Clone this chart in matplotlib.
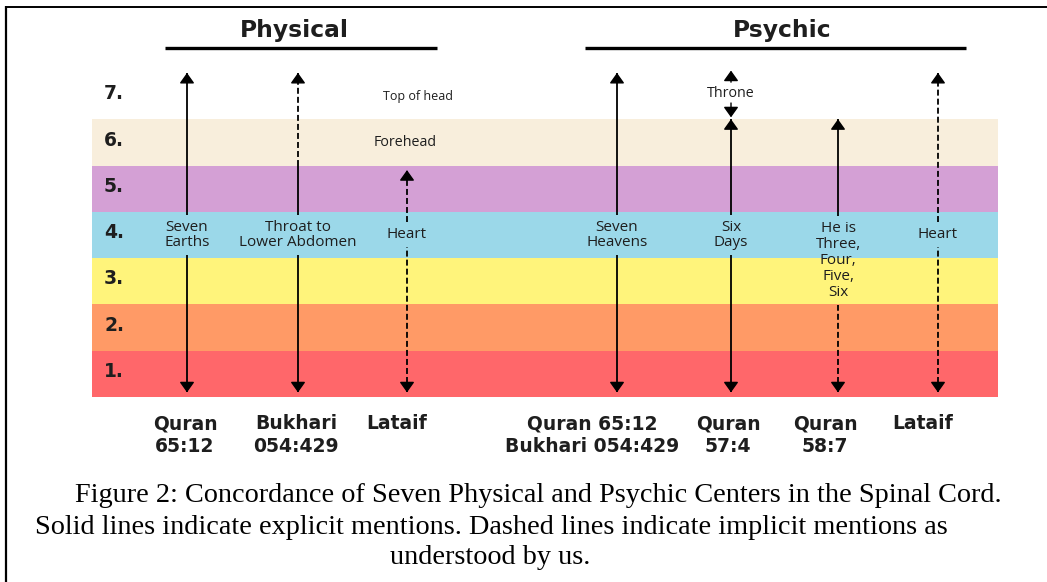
import matplotlib.pyplot as plt

# -----------------------------
# chart data
# -----------------------------
levels = [1, 2, 3, 4, 5, 6, 7]
level_labels = ["1.", "2.", "3.", "4.", "5.", "6.", "7."]

headers = ["Physical", "Psychic"]

landmark_names = ["Top of head", "Forehead"]
landmark_levels = [6.5, 5.5]

arrow_labels = ["Seven\nEarths", "Throat to\nLower Abdomen", "Heart",
                "Seven\nHeavens", "Six\nDays", "He is\nThree,\nFour,\nFive,\nSix", "Heart"]
arrow_label_level = [3.5, 3.5, 3.5, 3.5, 3.5, 2.95, 3.5]
arrow_bottom = [0.1, 0.1, 0.1, 0.1, 0.1, 0.1, 0.1]
arrow_top = [7.0, 7.0, 4.9, 7.0, 6.0, 6.0, 7.0]
# style below / above the split level
style_split = [7.0, 5.0, 7.0, 7.0, 7.0, 2.95, 7.0]
lower_style = ["solid", "solid", "dashed", "solid", "solid", "dashed", "dashed"]
upper_style = ["solid", "dashed", "dashed", "solid", "solid", "solid", "dashed"]

sources = ["Quran\n65:12", "Bukhari\n054:429", "Lataif", "Quran 65:12\nBukhari 054:429",
           "Quran\n57:4", "Quran\n58:7", "Lataif"]

throne_label = "Throne"
throne_level = 6.56
throne_up = (6.8, 7.05)
throne_down = (6.35, 6.04)

caption = [
    "Figure 2: Concordance of Seven Physical and Psychic Centers in the Spinal Cord.",
    "Solid lines indicate explicit mentions. Dashed lines indicate implicit mentions as",
    "understood by us.",
]

# -----------------------------
# layout / style
# -----------------------------
W, H = 1047, 582
band_colors = ["#ff676a", "#ff9a66", "#fff47b", "#9bd8e9", "#d4a0d5", "#f8eedc", "white"]
band_x0, band_x1 = 92, 998
level0_px, level_h_px = 397, 46.3
arrow_x = [187, 298, 407, 617, 731, 838, 938]
source_x = [185, 296, 397, 592, 728, 825, 923]
landmark_x = [418, 405]
landmark_size = [9, 10.3]
header_x = [294, 782]
header_lines = [(165, 437), (585, 966)]
caption_x = [75, 35, 490]
caption_y = [495, 527, 558]
caption_ha = ["left", "left", "center"]
ink = "#1e1e1e"
DASH = (0, (3.3, 1.7))
LW = 1.3
HEAD = dict(arrowstyle="-|>,head_length=0.35,head_width=0.25", mutation_scale=18,
            color="black", lw=1, shrinkA=0, shrinkB=0)

fig = plt.figure(figsize=(W / 100, H / 100), dpi=100)

# overlay in pixel coordinates for frame, headers, sources, caption
ov = fig.add_axes([0, 0, 1, 1])
ov.set_xlim(0, W)
ov.set_ylim(H, 0)
ov.axis("off")

# band axes: y in level units
ax = fig.add_axes([band_x0 / W, 1 - level0_px / H, (band_x1 - band_x0) / W,
                   7 * level_h_px / H])
ax.set_xlim(band_x0, band_x1)
ax.set_ylim(0, 7)
ax.axis("off")

ax.barh([lv - 0.5 for lv in levels], band_x1 - band_x0, height=1, left=band_x0,
        color=band_colors, edgecolor="none", zorder=0)

for lv, lab in zip(levels, level_labels):
    ax.text(104, lv - 0.45, lab, ha="left", va="center", fontsize=13.5,
            fontweight="bold", family="DejaVu Sans", color=ink)

for name, lv, x, fs in zip(landmark_names, landmark_levels, landmark_x, landmark_size):
    ax.text(x, lv, name, ha="center", va="center", fontsize=fs,
            family="Open Sans", color=ink)

# arrow labels first, so the gaps can be measured
label_txt = []
for x, lab, lv in zip(arrow_x, arrow_labels, arrow_label_level):
    t = ax.text(x, lv, lab, ha="center", va="center", fontsize=11,
                family="Open Sans", color=ink, linespacing=1.08)
    label_txt.append(t)

fig.canvas.draw()
inv = ax.transData.inverted()
pad_px = 5


def draw_seg(x, lo, hi, split, ls_lo, ls_hi):
    if hi <= lo:
        return
    parts = []
    if split > lo:
        parts.append((lo, min(hi, split), ls_lo))
    if split < hi:
        parts.append((max(lo, split), hi, ls_hi))
    for a, b, ls in parts:
        ax.plot([x, x], [a, b], color="black", lw=LW,
                linestyle=DASH if ls == "dashed" else "-",
                solid_capstyle="butt", clip_on=False, zorder=3)


for i, x in enumerate(arrow_x):
    bb = label_txt[i].get_window_extent()
    y_lo = inv.transform((0, bb.y0 - pad_px))[1]
    y_hi = inv.transform((0, bb.y1 + pad_px))[1]
    bot, top = arrow_bottom[i], arrow_top[i]
    draw_seg(x, bot, y_lo, style_split[i], lower_style[i], upper_style[i])
    draw_seg(x, y_hi, top, style_split[i], lower_style[i], upper_style[i])
    ax.annotate("", xy=(x, top), xytext=(x, top - 0.15), arrowprops=HEAD,
                annotation_clip=False, zorder=4)
    ax.annotate("", xy=(x, bot), xytext=(x, bot + 0.15), arrowprops=HEAD,
                annotation_clip=False, zorder=4)

# Throne marker on the Six Days column
tx = arrow_x[4]
ax.text(tx, throne_level, throne_label, ha="center", va="center", fontsize=10.3,
        family="Open Sans", color=ink)
ax.annotate("", xy=(tx, throne_up[1]), xytext=(tx, throne_up[0]),
            arrowprops=HEAD, annotation_clip=False)
ax.annotate("", xy=(tx, throne_down[1]), xytext=(tx, throne_down[0]),
            arrowprops=HEAD, annotation_clip=False)

# headers
for hx, name, (l0, l1) in zip(header_x, headers, header_lines):
    ov.text(hx, 30, name, ha="center", va="center", fontsize=16.8,
            fontweight="bold", family="DejaVu Sans", color=ink)
    ov.plot([l0, l1], [47.5, 47.5], color="black", lw=2.4, solid_capstyle="butt")

# sources under the arrows
for sx, src in zip(source_x, sources):
    ov.text(sx, 414, src, ha="center", va="top", fontsize=13.5,
            fontweight="bold", family="DejaVu Sans", color=ink,
            linespacing=1.3, multialignment="center")

# frame
ov.plot([6, 6], [6, H], color="black", lw=1.6, solid_capstyle="butt")
ov.plot([6, W], [6.5, 6.5], color="black", lw=1.4, solid_capstyle="butt")

# caption
for cx, cy, ha, line in zip(caption_x, caption_y, caption_ha, caption):
    ov.text(cx, cy, line, ha=ha, va="center", fontsize=20.3,
            family="Liberation Serif", color="black")

fig.savefig("out.png", dpi=100)
